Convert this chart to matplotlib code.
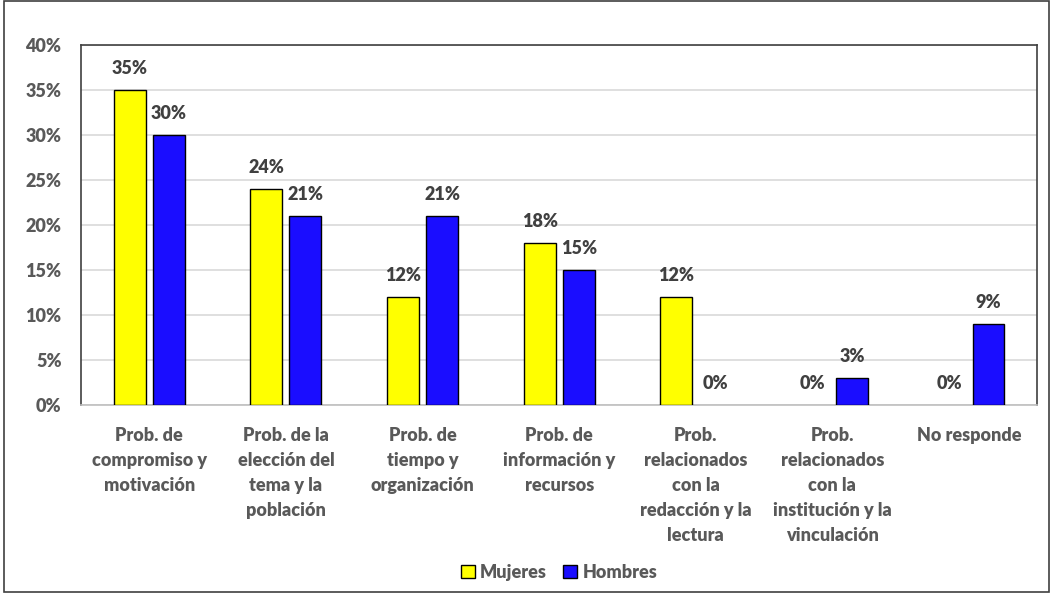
import matplotlib.pyplot as plt
import numpy as np
from matplotlib.patches import Rectangle

categories = ['Prob. de\ncompromiso y\nmotivación',
              'Prob. de la\nelección del\ntema y la\npoblación',
              'Prob. de\ntiempo y\norganización',
              'Prob. de\ninformación y\nrecursos',
              'Prob.\nrelacionados\ncon la\nredacción y la\nlectura',
              'Prob.\nrelacionados\ncon la\ninstitución y la\nvinculación',
              'No responde']
mujeres = [35, 24, 12, 18, 12, 0, 0]
hombres = [30, 21, 21, 15, 0, 3, 9]

plt.rcParams['font.family'] = ['Lato', 'DejaVu Sans']
plt.rcParams['font.weight'] = 'heavy'

fig = plt.figure(figsize=(10.52, 5.93), dpi=100)
ax = fig.add_axes([0.077, 0.317, 0.909, 0.607])
fig.patches.append(Rectangle((0.004, 0.002), 0.993, 0.996, transform=fig.transFigure,
                             fill=False, edgecolor='#404040', linewidth=1.2))

x = np.arange(len(categories))
w = 0.234
off = 0.143
b1 = ax.bar(x - off, mujeres, w, color='#ffff00', edgecolor='black', linewidth=1, label='Mujeres', zorder=3)
b2 = ax.bar(x + off, hombres, w, color='#1a0dff', edgecolor='black', linewidth=1, label='Hombres', zorder=3)

for bars, vals in [(b1, mujeres), (b2, hombres)]:
    for r, v in zip(bars, vals):
        if v == 0:
            r.set_linewidth(0)
        ax.annotate(f'{v}%', (r.get_x() + r.get_width() / 2, v), xytext=(0, 9.5),
                    textcoords='offset points', ha='center', va='bottom',
                    fontsize=13, fontweight='heavy', color='#404040')

ax.set_ylim(0, 40)
ax.set_xlim(-0.5, len(categories) - 0.5)
ax.set_yticks(range(0, 41, 5))
ax.set_yticklabels([f'{t}%' for t in range(0, 41, 5)])
ax.set_xticks(x)
ax.set_xticklabels(categories, linespacing=1.56)
ax.tick_params(axis='both', length=0, labelsize=13, labelcolor='#595959')
ax.tick_params(axis='y', pad=14)
ax.tick_params(axis='x', pad=16)
ax.grid(axis='y', color='#d9d9d9', linewidth=1.2, zorder=0)
for s in ax.spines.values():
    s.set_color('#404040')
    s.set_linewidth(1.2)
ax.spines['bottom'].set_color('#bfbfbf')

leg = ax.legend(loc='center', bbox_to_anchor=(0.5, -0.465), ncol=2, frameon=False,
                fontsize=13, handlelength=0.75, handleheight=0.75,
                handletextpad=0.3, columnspacing=0.9)
for t in leg.get_texts():
    t.set_color('#595959')
    t.set_fontweight('heavy')

fig.savefig('out.png', dpi=100)
